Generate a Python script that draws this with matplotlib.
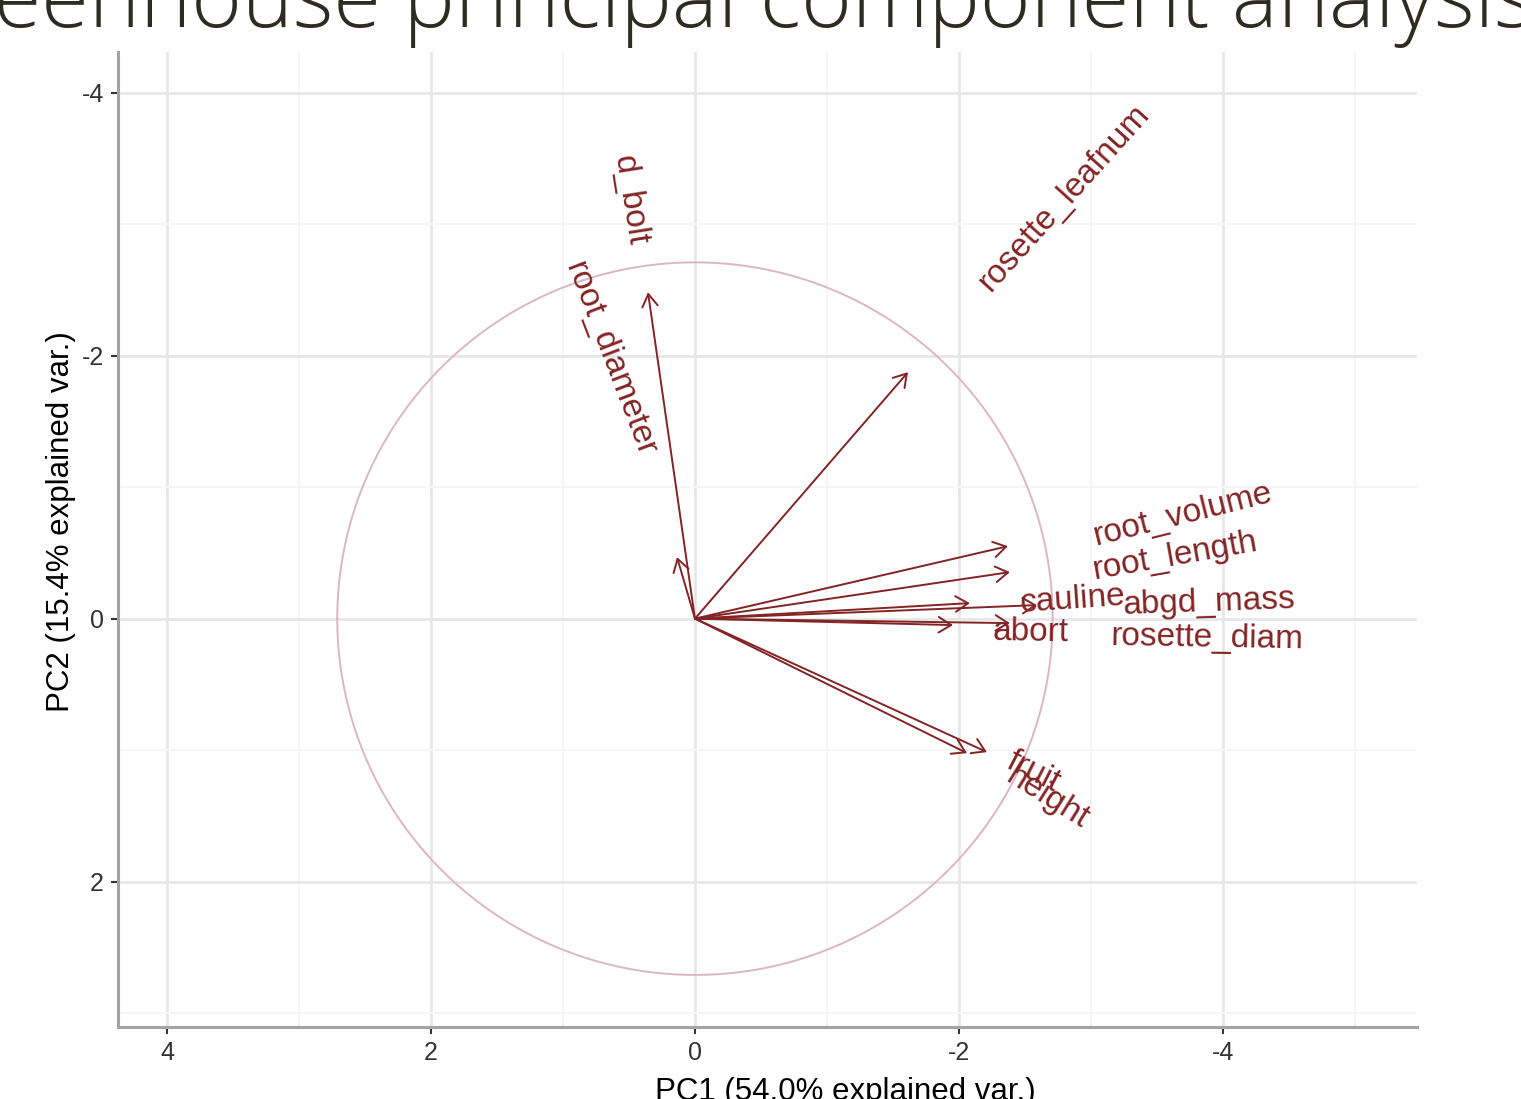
import numpy as np
import matplotlib
matplotlib.use('Agg')
import matplotlib.pyplot as plt
from matplotlib.ticker import MultipleLocator

plt.rcParams['font.family'] = ['Liberation Sans', 'DejaVu Sans']
plt.rcParams['axes.unicode_minus'] = False

# variable loadings (PC1, PC2) as drawn in the biplot
variables = ['d_bolt', 'root_diameter', 'rosette_leafnum', 'root_volume',
             'root_length', 'cauline', 'abgd_mass', 'abort', 'rosette_diam',
             'fruit', 'height']
pc1 = [0.356, 0.136, -1.614, -2.371, -2.386, -2.083, -2.591, -1.955, -2.386,
       -2.061, -2.212]
pc2 = [-2.483, -0.468, -1.875, -0.551, -0.354, -0.118, -0.103, 0.049, 0.034,
       1.023, 1.015]

# where the variable names sit and how they are turned
label_x = [0.49, 0.64, -2.80, -3.70, -3.64, -2.86, -3.90, -2.54, -3.88, -2.56, -2.67]
label_y = [-3.18, -1.97, -3.20, -0.79, -0.475, -0.14, -0.12, 0.10, 0.15, 1.17, 1.36]
label_angle = [-81, -69, 48, 14, 10, 4, 2, -1, -1, -27, -32]

circle_radius = 2.71
xticks = [4, 2, 0, -2, -4]
yticks = [-4, -2, 0, 2]

title = 'Greenhouse principal component analysis'
xlabel = 'PC1 (54.0% explained var.)'
ylabel = 'PC2 (15.4% explained var.)'

W, H = 1521, 1099
fig = plt.figure(figsize=(W / 100, H / 100), dpi=100)
ax = fig.add_axes([118 / W, 1 - 1027 / H, (1417 - 118) / W, (1027 - 52) / H])

ax.set_xlim(4.371, -5.47)
ax.set_ylim(3.106, -4.31)

# grid
ax.set_xticks(xticks)
ax.set_yticks(yticks)
ax.xaxis.set_minor_locator(MultipleLocator(1))
ax.yaxis.set_minor_locator(MultipleLocator(1))
ax.grid(True, which='major', color='#e6e6e6', lw=1.9)
ax.grid(True, which='minor', color='#f6f6f6', lw=1.6)
ax.set_axisbelow(True)
ax.tick_params(which='minor', length=0)
ax.tick_params(which='major', direction='out', length=5, width=1.5,
               color='#333333', labelsize=18, labelcolor='#333333', pad=5)

for side in ['top', 'right']:
    ax.spines[side].set_visible(False)
for side in ['left', 'bottom']:
    ax.spines[side].set_color('#a3a3a3')
    ax.spines[side].set_linewidth(2.2)

# correlation circle
t = np.linspace(0, 2 * np.pi, 400)
ax.plot(circle_radius * np.cos(t), circle_radius * np.sin(t),
        color='#dcb6c1', lw=1.4, zorder=2)

# loading arrows
arrow_col = '#832424'
for x, y in zip(pc1, pc2):
    ax.annotate('', xy=(x, y), xytext=(0, 0),
                arrowprops=dict(arrowstyle='->,head_length=0.45,head_width=0.28',
                                color=arrow_col, lw=1.4, shrinkA=0, shrinkB=0,
                                mutation_scale=20),
                zorder=3)

for name, x, y, a in zip(variables, label_x, label_y, label_angle):
    ax.text(x, y, name, color=arrow_col, fontsize=24, rotation=a,
            rotation_mode='anchor', ha='center', va='center', zorder=4)

# axis titles
fig.text(845 / W, 1 - 1077 / H, xlabel, fontsize=22.5, ha='center', va='top')
fig.text(61 / W, 1 - 522 / H, ylabel, fontsize=22.5, rotation=90,
         ha='center', va='center')

# slide title, cut off by the top edge of the picture
title_fam = ['Open Sans', 'DejaVu Sans']
probe = fig.text(0, 0, title[2:], fontsize=60, family=title_fam, weight='light')
fig.canvas.draw()
w = probe.get_window_extent().width
probe.remove()
fig.text(1535 / W, 1 - 27 / H, title, fontsize=60 * 1540 / w,
         family=title_fam, weight='light', color='#2e2b20',
         ha='right', va='baseline')

fig.savefig('out.png', dpi=100, facecolor='white')
